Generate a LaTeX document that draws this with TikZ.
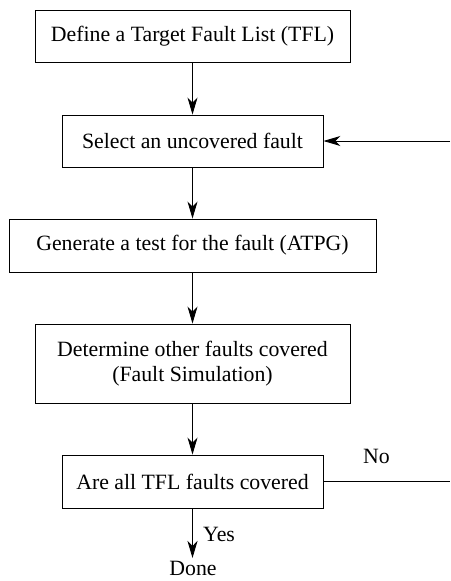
\documentclass[tikz,border=0pt]{standalone}
\usepackage{fontspec}
\setmainfont{Liberation Serif}
\usetikzlibrary{arrows.meta}
\begin{document}
\begin{tikzpicture}[x=1pt,y=-1pt,
  every node/.style={font=\fontsize{21.8}{25}\selectfont},
  stepbox/.style={draw, line width=0.9pt, inner sep=0pt, align=center},
  flow/.style={line width=0.9pt, -{Stealth[length=17pt,width=10pt,inset=5pt]}},
  plain/.style={line width=0.9pt}]
\useasboundingbox (0,0) rectangle (450,581);
% process steps
\node[stepbox, minimum width=315pt, minimum height=52pt] (tfl) at (192.5,36) {Define a Target Fault List (TFL)};
\node[stepbox, minimum width=261pt, minimum height=52pt] (sel) at (192.5,141) {Select an uncovered fault};
\node[stepbox, minimum width=367pt, minimum height=53pt] (gen) at (192.5,245.5) {Generate a test for the fault (ATPG)};
\node[stepbox, minimum width=315pt, minimum height=79pt] (sim) at (192.5,363.5) {Determine other faults covered\\(Fault Simulation)};
\node[stepbox, minimum width=261pt, minimum height=53pt] (chk) at (192.5,481.5) {Are all TFL faults covered};
% end point and branch labels
\node[anchor=base, inner sep=0pt] (done) at (193,575) {Done};
\coordinate (doneTip) at (192.5,558);
\node[anchor=base west, inner sep=0pt] (yes) at (203,541) {Yes};
\node[anchor=base west, inner sep=0pt] (no) at (363,463) {No};
\coordinate (loopIn) at (450,141);
\coordinate (loopOut) at (450,481.5);
% connectors
\draw[flow] (tfl) -- (sel);
\draw[flow] (sel) -- (gen);
\draw[flow] (gen) -- (sim);
\draw[flow] (sim) -- (chk);
\draw[flow] (chk) -- (doneTip);
\draw[flow] (loopIn) -- (sel);
\draw[plain] (chk) -- (loopOut);
\end{tikzpicture}
\end{document}
